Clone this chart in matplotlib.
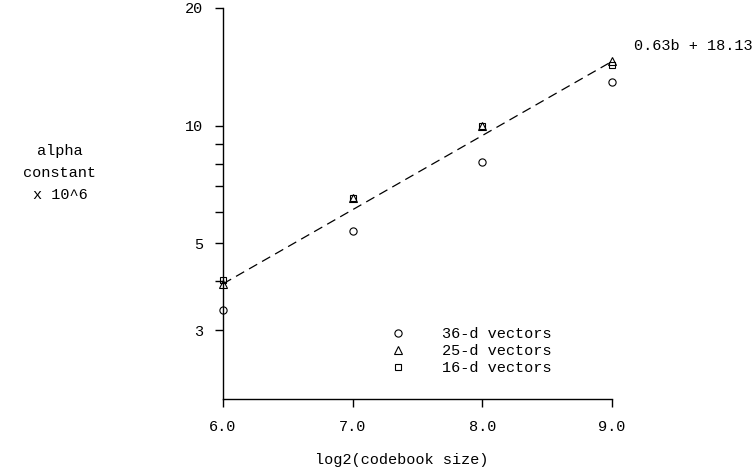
import matplotlib
matplotlib.use("Agg")
import matplotlib.pyplot as plt
import numpy as np
from matplotlib.lines import Line2D

plt.rcParams['font.family'] = ['Liberation Mono', 'DejaVu Sans Mono']
plt.rcParams['font.size'] = 11

# data (alpha constant x 10^6)
bits = [6.0, 7.0, 8.0, 9.0]
alpha_36d = [3.37, 5.37, 8.08, 12.9]
alpha_25d = [3.93, 6.55, 10.0, 14.6]
alpha_16d = [4.03, 6.55, 10.0, 14.3]
series_labels = ['36-d vectors', '25-d vectors', '16-d vectors']

fit_slope = 0.63
fit_intercept = 18.13
fit_x = np.array([6.0, 9.0])
fit_label = '0.63b + 18.13'

xticks = [6.0, 7.0, 8.0, 9.0]
xticklabels = ['6.0', '7.0', '8.0', '9.0']
yticks = [3, 4, 5, 6, 7, 8, 9, 10, 20]
yticklabels = ['3', '', '5', '', '', '', '', '10', '20']

W, H = 755, 469
fig = plt.figure(figsize=(W / 100, H / 100), dpi=100)
ax = fig.add_axes([223 / W, 1 - 399 / H, (612 - 223) / W, (399 - 8) / H])

ax.set_yscale('log')
ax.set_xlim(6.0, 9.0)
ax.set_ylim(2, 20)

ms = 5.2
mk = dict(linestyle='none', markerfacecolor='none', markeredgecolor='black',
          markeredgewidth=0.8, clip_on=False, zorder=3)
ax.plot(bits, alpha_36d, marker='o', markersize=ms, **mk)
ax.plot(bits, alpha_25d, marker='^', markersize=ms, **mk)
ax.plot(bits, alpha_16d, marker='s', markersize=ms - 0.7, **mk)

fit_y = 2 ** (fit_slope * fit_x + fit_intercept) / 1e6
ax.plot(fit_x, fit_y, color='black', linewidth=0.9, linestyle=(0, (7.5, 4.5)), zorder=2)

ax.text(9.17, 16.0, fit_label, ha='left', va='center', color='black', clip_on=False)

ax.set_xticks(xticks)
ax.set_xticklabels(xticklabels)
ax.set_yticks(yticks)
ax.set_yticklabels(yticklabels)
ax.yaxis.set_minor_locator(matplotlib.ticker.NullLocator())
ax.xaxis.set_minor_locator(matplotlib.ticker.NullLocator())

for s in ['top', 'right']:
    ax.spines[s].set_visible(False)
for s in ['left', 'bottom']:
    ax.spines[s].set_linewidth(1.0)
ax.tick_params(axis='both', direction='out', length=6, width=1.0, colors='black')
ax.tick_params(axis='y', pad=8)
ax.tick_params(axis='x', pad=9)

fig.text(402 / W, 1 - 460 / H, 'log2(codebook size)', ha='center', va='center')

fig.text(60 / W, 1 - 151 / H, 'alpha', ha='center', va='center')
fig.text(60 / W, 1 - 173 / H, 'constant', ha='center', va='center')
fig.text(60 / W, 1 - 195 / H, 'x 10^6', ha='center', va='center')

handles = [
    Line2D([], [], marker='o', markersize=ms, linestyle='none', markerfacecolor='none', markeredgecolor='black', markeredgewidth=0.8),
    Line2D([], [], marker='^', markersize=ms, linestyle='none', markerfacecolor='none', markeredgecolor='black', markeredgewidth=0.8),
    Line2D([], [], marker='s', markersize=ms - 0.7, linestyle='none', markerfacecolor='none', markeredgecolor='black', markeredgewidth=0.8),
]
fs_px = 11 * 100 / 72
leg = fig.legend(handles, series_labels, loc='upper left',
                 bbox_to_anchor=((398 - fs_px) / W, 1 - 327 / H),
                 frameon=False, borderpad=0, borderaxespad=0,
                 handlelength=2.0, handletextpad=1.88, labelspacing=0.2)

fig.savefig('out.png', dpi=100)
